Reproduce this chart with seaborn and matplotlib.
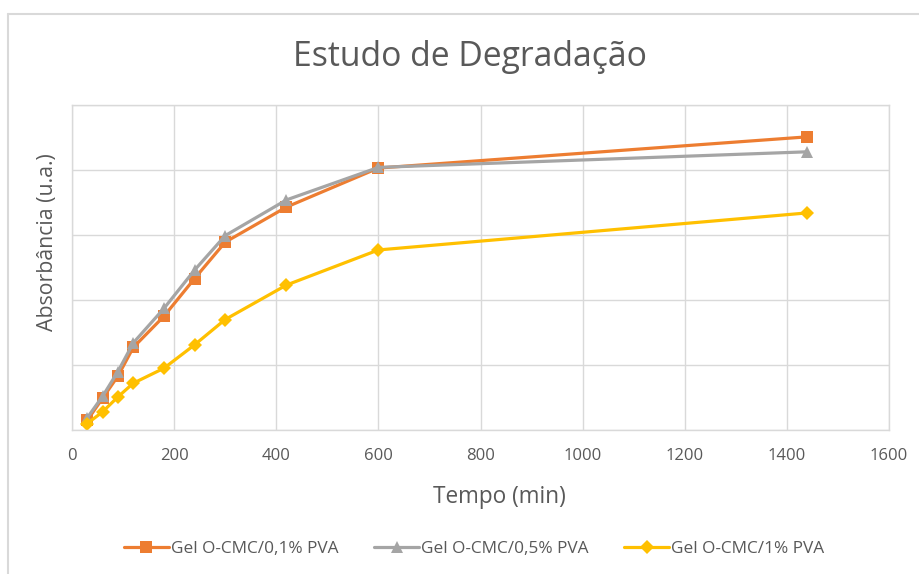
import pandas as pd
import numpy as np
import matplotlib
matplotlib.use("Agg")
import matplotlib.pyplot as plt
from matplotlib.lines import Line2D
import seaborn as sns

# Data (absorbance in arbitrary units)
tempo = [30, 60, 90, 120, 180, 240, 300, 420, 600, 1440]
abs_01 = [0.015, 0.049, 0.083, 0.127, 0.175, 0.233, 0.289, 0.343, 0.403, 0.451]
abs_05 = [0.019, 0.052, 0.090, 0.134, 0.187, 0.246, 0.299, 0.354, 0.404, 0.428]
abs_1 = [0.010, 0.028, 0.051, 0.072, 0.095, 0.131, 0.170, 0.223, 0.277, 0.334]
series_names = ["Gel O-CMC/0,1% PVA", "Gel O-CMC/0,5% PVA", "Gel O-CMC/1% PVA"]
x_ticks = [0, 200, 400, 600, 800, 1000, 1200, 1400, 1600]

colors = {series_names[0]: "#ED7D31", series_names[1]: "#A5A5A5", series_names[2]: "#FFC000"}
markers = {series_names[0]: "s", series_names[1]: "^", series_names[2]: "D"}

df = pd.concat([
    pd.DataFrame({"Tempo": tempo, "Abs": vals, "Amostra": name})
    for name, vals in zip(series_names, [abs_01, abs_05, abs_1])
], ignore_index=True)

sns.set_theme(style="whitegrid")
plt.rcParams["font.family"] = ["Open Sans", "DejaVu Sans"]

grid_c = "#D9D9D9"
text_c = "#595959"

fig = plt.figure(figsize=(9.19, 5.74), dpi=100)
ax = fig.add_axes([72 / 919, 1 - 430 / 574, (889 - 72) / 919, (430 - 105) / 574])

for name in series_names:
    sub = df[df["Amostra"] == name]
    sns.lineplot(data=sub, x="Tempo", y="Abs", ax=ax, color=colors[name],
                 marker=markers[name], markersize=8.5 if name != series_names[2] else 7.5,
                 markeredgewidth=0, linewidth=2.3, label=name, sort=False)

ax.set_xlim(0, 1600)
ax.set_ylim(0, 0.5)
ax.set_xticks(x_ticks)
ax.set_yticks(np.arange(0, 0.51, 0.1))
ax.set_yticklabels([])
ax.tick_params(axis="x", colors=text_c, labelsize=12, length=0, pad=13)
ax.tick_params(axis="y", length=0)
ax.grid(True, color=grid_c, linewidth=1)
for s in ax.spines.values():
    s.set_color(grid_c)
    s.set_linewidth(1)

ax.set_xlabel("")
ax.set_ylabel("")
fig.text(499 / 919, 1 - 497 / 574, "Tempo (min)", ha="center", va="center",
         fontsize=16.3, color=text_c)
fig.text(48 / 919, 1 - 242 / 574, "Absorbância (u.a.)", ha="center", va="center",
         rotation=90, fontsize=15.3, color=text_c)
fig.text(470 / 919, 1 - 57 / 574, "Estudo de Degradação", ha="center", va="center",
         fontsize=24.3, color=text_c)

ax.get_legend().remove()
handles = [Line2D([0], [0], color=colors[n], marker=markers[n], markersize=8 if n != series_names[2] else 7,
                  markeredgewidth=0, linewidth=2.3) for n in series_names]
fig.legend(handles, series_names, loc="center", bbox_to_anchor=(474 / 919, 1 - 549 / 574),
           ncol=3, frameon=False, fontsize=12.4, handlelength=2.6, handletextpad=0.1,
           columnspacing=2.1, labelcolor=text_c)

# outer chart frame (runs off the right and bottom edges)
fig.add_artist(Line2D([8 / 919, 8 / 919], [0, 1 - 14 / 574], transform=fig.transFigure,
                      color=grid_c, linewidth=1.5))
fig.add_artist(Line2D([8 / 919, 1], [1 - 14 / 574, 1 - 14 / 574], transform=fig.transFigure,
                      color=grid_c, linewidth=1.5))

fig.savefig("out.png", dpi=100)
